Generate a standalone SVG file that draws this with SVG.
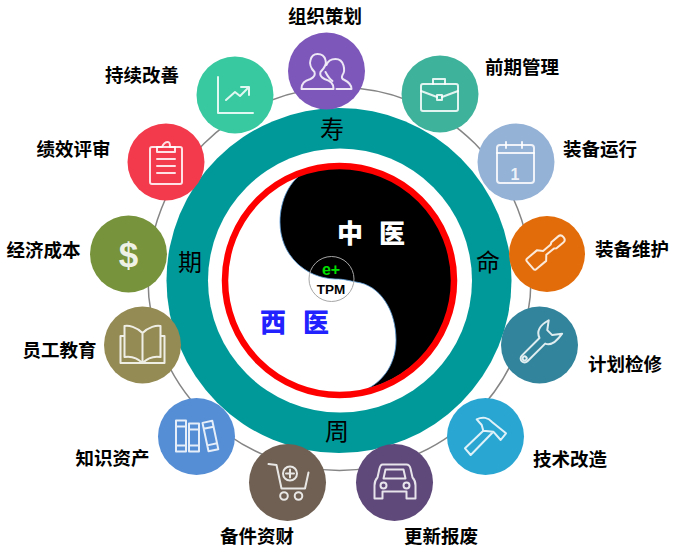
<svg xmlns="http://www.w3.org/2000/svg" width="676" height="550" viewBox="0 0 676 550">
<style>
.lb{font-family:"Noto Sans CJK SC","Liberation Sans",sans-serif;font-size:18.5px;font-weight:700;fill:#000;text-anchor:middle}
.rc{font-family:"Noto Sans CJK SC",sans-serif;font-size:24px;fill:#000;text-anchor:middle}
.big{font-family:"Noto Sans CJK SC",sans-serif;font-size:26px;font-weight:900;text-anchor:middle}
.ic{fill:none;stroke:#fff;stroke-width:2;stroke-opacity:.85;stroke-linejoin:round;stroke-linecap:round}
</style>
<rect width="676" height="550" fill="#fff"/>
<g id="connectors"><circle cx="339.5" cy="279" r="191.5" fill="none" stroke="#858585" stroke-width="1.5"/></g>
<g id="center">
<circle cx="339" cy="280.5" r="172.5" fill="#009999"/>
<circle cx="340" cy="280.5" r="132" fill="#fff"/>
<path d="M305 172C290 180 280 200 280 222C280 255 305 278 335 279C345 279 350 281 356 282C380 285 396 310 396 340C396 362 385 380 367 389A113 113 0 0 0 452.500 280.500A113 113 0 0 0 305 172Z" fill="#000" stroke="#5b9bd5" stroke-width=".8"/>
<circle cx="339.5" cy="280.5" r="114.5" fill="none" stroke="#f00" stroke-width="6.5"/>
<circle cx="331.5" cy="279" r="22.5" fill="none" stroke="#a6a6a6" stroke-width="1"/>
<text class="rc" x="332" y="138">寿</text>
<text class="rc" x="190" y="271">期</text>
<text class="rc" x="488" y="271">命</text>
<text class="rc" x="337" y="440">周</text>
<text class="big" x="350" y="243" fill="#fff">中</text>
<text class="big" x="392" y="243" fill="#fff">医</text>
<text class="big" x="273" y="332" fill="#2222ff">西</text>
<text class="big" x="316" y="332" fill="#2222ff">医</text>
<text x="331" y="275" font-family="Liberation Sans,sans-serif" font-size="16" font-weight="700" fill="#00e000" text-anchor="middle">e+</text>
<text x="331" y="294" font-family="Liberation Sans,sans-serif" font-size="13.5" font-weight="700" fill="#000" text-anchor="middle">TPM</text>
</g>
<g id="node-zuzhi" transform="translate(326.5 71)"><circle r="38.5" fill="#7e57bb"/><path class="ic" d="M-25 18C-25 12-22 10-16 8C-12 6-11 4-12 1C-16-3-17-8-16-11C-15-15-12-17-9-17C-5-17-2-15-1-11C0-8-2-3-6 1C-7 4-6 6-2 8C4 10 7 12 7 18Z"/><path class="ic" d="M10 18H25C25 13 22 11 18 9C15 8 15 6 16 4C19 0 18-12 9-12C4-12 1-9 0-6M-1 1C1 5 3 8 6 10"/></g>
<text class="lb" x="325" y="23">组织策划</text>
<g id="node-qianqi" transform="translate(440 94)"><circle r="38.5" fill="#3fb29b"/><rect class="ic" x="-19" y="-10" width="37" height="27" rx="2"/><path class="ic" d="M-7-10V-15H5V-10M-19-3L-3 3M18-3L2 3"/><rect class="ic" x="-3" y="1" width="5" height="5"/></g>
<text class="lb" x="522" y="74">前期管理</text>
<g id="node-chixu" transform="translate(235 95)"><circle r="38.5" fill="#38c9a0"/><path class="ic" d="M-17-18V18H18M-9 5L0-3L5 1L14-8M6-8H14V0"/></g>
<text class="lb" x="142" y="82">持续改善</text>
<g id="node-yunxing" transform="translate(516 162)"><circle r="38.5" fill="#94b1d6"/><rect class="ic" x="-19" y="-17" width="37" height="38" rx="3"/><path class="ic" d="M-19-9H18M-10-20V-14M6-20V-14"/><text y="18" x="-1" font-family="Liberation Sans,sans-serif" font-size="16" font-weight="700" fill="#fff" fill-opacity=".85" text-anchor="middle">1</text></g>
<text class="lb" x="600" y="156">装备运行</text>
<g id="node-weihu" transform="translate(547 254)"><circle r="38" fill="#e36c0a"/><path class="ic" transform="translate(0 -3) rotate(-40)" d="M-22-5Q-22-7-20-7H-7L-3-2.500H7L9-4H18Q21.500-4 21.500 0Q21.500 4 18 4H9L7 2.500H-3L-7 7H-20Q-22 7-22 5Z"/></g>
<text class="lb" x="632" y="256">装备维护</text>
<g id="node-jihua" transform="translate(539.5 345)"><circle r="38.5" fill="#31849b"/><g transform="rotate(-45)"><path class="ic" d="M-20-5H5C7-11 13-14 24-11L16-5V2L24 8C13 10 7 8 5 3H-20A4 4 0 0 1-20-5Z"/><circle class="ic" cx="-20" cy="-1" r="2"/></g></g>
<text class="lb" x="625" y="371">计划检修</text>
<g id="node-jishu" transform="translate(485.5 436.5)"><circle r="38.5" fill="#2aa6d3"/><path class="ic" d="M-20.500 11.800L-14.800 18.500L7.800-4.800L-2.200-5.800ZM-8.800-17.200C-3-20 3-19 6.200-14.800L20.500-3.200L15.200 3.500L7.800-4.800L-2.200-5.800L-3.800-11.500Z"/></g>
<text class="lb" x="570" y="466">技术改造</text>
<g id="node-gengxin" transform="translate(394.5 482.5)"><circle r="38.5" fill="#5f497a"/><path class="ic" d="M-12-18H12Q15-18 16-14L18-5Q21-2 21 3V16H12V9H-12V16H-20V3Q-20-2-17-5L-15-14Q-14-18-12-18Z"/><path class="ic" d="M-9-13H9L11-4H-11Z"/><circle class="ic" cx="-11" cy="3" r="3"/><circle class="ic" cx="12" cy="3" r="3"/></g>
<text class="lb" x="441" y="543">更新报废</text>
<g id="node-beijian" transform="translate(287.500 482.5)"><circle r="38.5" fill="#6f6053"/><path class="ic" d="M-19-18.500L-11-17.500L-6 6H17.500L21-10"/><circle class="ic" cx="-3.500" cy="13.500" r="3.800"/><circle class="ic" cx="11" cy="13.500" r="3.800"/><circle class="ic" cx="2.500" cy="-9" r="7"/><path class="ic" d="M-1.500-9H6.500M2.500-13V-5"/></g>
<text class="lb" x="257" y="543">备件资财</text>
<g id="node-zhishi" transform="translate(196.5 436.5)"><circle r="38.5" fill="#558ed5"/><path class="ic" d="M-20.500-16H-10.500V15H-20.500ZM-20.500-10H-10.500M-20.500 9H-10.500M-7.500-13H2.500V15H-7.500ZM-7.500-7H2.500M-7.500 9H2.500"/><g transform="translate(14 0) rotate(-12)"><path class="ic" d="M-5-15H5V14H-5ZM-5-9H5M-5 8H5"/></g></g>
<text class="lb" x="112.500" y="465">知识资产</text>
<g id="node-yuangong" transform="translate(142.500 345)"><circle r="38.5" fill="#948a54"/><path class="ic" d="M0 18V-12C-6-18-14-20-18-19V12C-12 11-5 13 0 18C5 13 12 11 18 12V-19C14-20 6-18 0-12M-18-9H-22V18H22V-9H18"/></g>
<text class="lb" x="59.500" y="357">员工教育</text>
<g id="node-jingji" transform="translate(128.500 254)"><circle r="38.5" fill="#77933c"/><text y="13" font-family="Liberation Sans,sans-serif" font-size="35" font-weight="700" fill="#fff" fill-opacity=".9" text-anchor="middle">$</text></g>
<text class="lb" x="43.500" y="257">经济成本</text>
<g id="node-jixiao" transform="translate(166 162)"><circle r="38.500" fill="#f23a4c"/><rect class="ic" x="-16" y="-15" width="32" height="37" rx="2"/><path class="ic" d="M-9-10V-15H-4Q-2-20 2-20Q4-20 4-15H9V-10ZM-9-3H9M-9 4H9M-9 11H9"/></g>
<text class="lb" x="73.500" y="156">绩效评审</text>
</svg>
